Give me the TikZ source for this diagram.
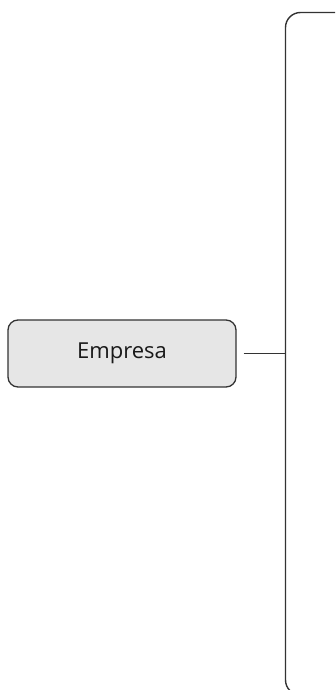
\documentclass[tikz,border=0pt]{standalone}
\usepackage{fontspec}
\newfontfamily\boxfont{Open Sans}
\usetikzlibrary{positioning}
\definecolor{boxgray}{HTML}{E6E6E6}
\definecolor{linegray}{HTML}{333333}
\tikzset{
    topic box/.style={
        draw=linegray,
        fill=boxgray,
        rounded corners=10pt,
        line width=1.3pt,
        minimum width=228pt,
        minimum height=67pt,
        inner sep=0pt,
        text=black!90,
        font=\boxfont\fontsize{22}{26}\selectfont
    },
    branch line/.style={
        draw=linegray,
        line width=1.1pt
    },
    bracket/.style={
        draw=linegray,
        line width=1.4pt,
        rounded corners=15pt
    }
}

\begin{document}
\begin{tikzpicture}[x=1pt, y=-1pt]

    \useasboundingbox (0,0) rectangle (335,690);
    \clip (0,0) rectangle (335,690);

    % -------------------------------------------------------------------------
    % Main topic and its connector to the bracket.
    % -------------------------------------------------------------------------
    \node[topic box] (empresa) at (122,353.5) {Empresa};
    \coordinate (junction) at (285.5,353.5);
    \draw[branch line, shorten <=7pt] (empresa.east) -- (junction);

    % -------------------------------------------------------------------------
    % Large open bracket on the right.
    % -------------------------------------------------------------------------
    \draw[bracket] (360,12.5) -- (285.5,12.5) -- (285.5,695) -- (360,695);

\end{tikzpicture}
\end{document}
